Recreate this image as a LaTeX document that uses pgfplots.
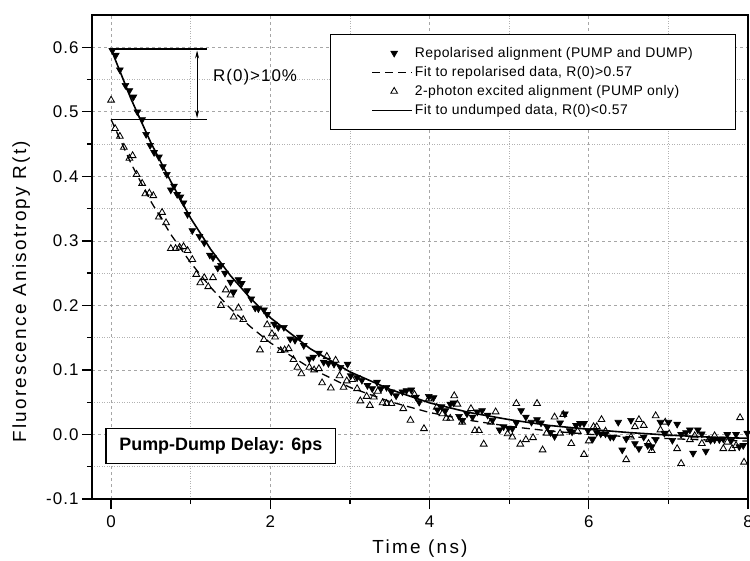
\documentclass[border=0pt]{standalone}
\usepackage{fontspec}
\setmainfont{Liberation Sans}
\newfontfamily\tickfnt[LetterSpace=6]{Liberation Sans}
\newfontfamily\labfnt[LetterSpace=12]{Liberation Sans}
\newfontfamily\legfnt[LetterSpace=3]{Liberation Sans}
\usepackage{pgfplots}
\usepackage{pgfplotstable}
\pgfplotsset{compat=1.18}
\usetikzlibrary{arrows.meta}

\pgfplotsset{
  marklegend/.style={legend image code/.code={\draw[##1] plot coordinates {(22bp,0bp)};}},
  linelegend/.style={legend image code/.code={\draw[##1] (0bp,0bp) -- (40bp,0bp);}},
}

% repolarised alignment (PUMP and DUMP), filled down triangles
\pgfplotstableread{
t r
0.016 0.595
0.06 0.588
0.11 0.565
0.18 0.541
0.23 0.533
0.28 0.523
0.33 0.500
0.39 0.488
0.44 0.465
0.49 0.448
0.54 0.437
0.60 0.430
0.65 0.415
0.70 0.403
0.75 0.379
0.79 0.385
0.83 0.372
0.87 0.368
0.91 0.359
0.96 0.341
1.02 0.316
1.11 0.307
1.17 0.297
1.24 0.278
1.28 0.274
1.34 0.258
1.38 0.262
1.43 0.250
1.50 0.236
1.54 0.221
1.60 0.240
1.64 0.234
1.71 0.223
1.76 0.210
1.81 0.196
1.85 0.195
1.92 0.193
1.96 0.186
2.05 0.171
2.10 0.166
2.17 0.166
2.25 0.148
2.31 0.146
2.37 0.151
2.42 0.138
2.49 0.117
2.54 0.120
2.61 0.126
2.67 0.112
2.73 0.110
2.80 0.109
2.88 0.104
2.97 0.109
3.01 0.091
3.09 0.088
3.15 0.084
3.22 0.076
3.28 0.071
3.34 0.081
3.39 0.071
3.46 0.073
3.52 0.066
3.58 0.060
3.66 0.066
3.71 0.068
3.77 0.069
3.83 0.058
3.87 0.050
3.99 0.059
4.05 0.057
4.10 0.038
4.15 0.043
4.20 0.037
4.26 0.047
4.30 0.049
4.37 0.028
4.41 0.022
4.47 0.032
4.54 0.027
4.60 0.035
4.66 0.037
4.73 0.030
4.79 0.022
4.88 0.007
4.93 0.012
4.99 0.010
5.04 0.009
5.09 0.018
5.15 0.037
5.21 0.027
5.28 0.019
5.35 0.023
5.40 0.018
5.48 0.011
5.52 0.003
5.57 -0.003
5.64 0.018
5.70 0.032
5.76 0.006
5.79 0.004
5.84 0.014
5.89 0.017
5.94 0.017
5.99 0.006
6.05 -0.007
6.10 0.003
6.15 0.001
6.21 0.001
6.27 -0.004
6.31 -0.004
6.37 0.019
6.42 -0.024
6.47 -0.007
6.53 0.022
6.58 -0.014
6.63 -0.022
6.69 -0.004
6.74 -0.017
6.79 -0.019
6.84 -0.008
6.90 0.019
6.95 0.002
7.00 0.019
7.05 -0.009
7.11 0.016
7.16 0.000
7.22 0.003
7.27 0.007
7.31 -0.029
7.37 0.007
7.42 0.001
7.47 -0.026
7.53 -0.009
7.58 -0.008
7.64 -0.008
7.69 -0.007
7.74 0.000
7.79 -0.009
7.85 0.000
7.89 -0.019
7.94 -0.017
7.99 0.002
}\dumped

% 2-photon excited alignment (PUMP only), open up triangles
\pgfplotstableread{
t r
0.00 0.518
0.05 0.474
0.11 0.462
0.16 0.445
0.23 0.428
0.27 0.432
0.32 0.403
0.39 0.389
0.43 0.373
0.48 0.374
0.53 0.370
0.60 0.337
0.64 0.344
0.69 0.328
0.75 0.288
0.81 0.288
0.86 0.290
0.91 0.291
0.96 0.285
1.02 0.271
1.07 0.248
1.12 0.235
1.17 0.243
1.22 0.229
1.28 0.243
1.38 0.200
1.44 0.224
1.50 0.216
1.54 0.182
1.60 0.196
1.66 0.178
1.87 0.131
1.92 0.147
1.96 0.170
2.02 0.156
2.06 0.151
2.13 0.130
2.18 0.131
2.23 0.133
2.29 0.116
2.34 0.104
2.39 0.094
2.49 0.104
2.55 0.100
2.61 0.102
2.65 0.080
2.71 0.121
2.76 0.072
2.82 0.115
2.87 0.091
2.92 0.073
2.96 0.083
3.03 0.085
3.09 0.071
3.13 0.052
3.21 0.059
3.25 0.045
3.30 0.058
3.35 0.067
3.41 0.049
3.46 0.048
3.52 0.048
3.67 0.040
3.76 0.022
3.81 0.062
3.93 0.009
3.99 0.055
4.09 0.042
4.16 0.032
4.21 0.025
4.26 0.025
4.31 0.060
4.35 0.047
4.41 0.019
4.52 0.040
4.57 0.006
4.62 0.006
4.68 -0.015
4.77 0.019
4.83 0.035
4.98 0.001
5.04 -0.004
5.09 0.048
5.14 -0.015
5.21 -0.008
5.30 -0.005
5.35 0.048
5.42 -0.024
5.47 0.002
5.57 0.027
5.64 0.002
5.68 0.031
5.78 -0.014
5.86 0.005
5.94 -0.031
6.00 -0.010
6.06 0.012
6.10 0.012
6.16 0.023
6.21 0.005
6.47 -0.039
6.53 -0.004
6.58 0.012
6.63 0.023
6.69 0.014
6.75 -0.014
6.79 -0.025
6.84 0.029
6.90 0.007
6.96 0.019
7.01 0.001
7.11 -0.022
7.16 -0.045
7.27 -0.008
7.33 -0.002
7.42 -0.014
7.51 -0.008
7.58 -0.002
7.69 -0.022
7.74 -0.012
7.80 -0.022
7.85 -0.017
7.90 0.026
7.95 -0.043
}\undumped

% fit curves
\pgfplotstableread{
t r
0 0.597
0.25 0.520
0.5 0.452
0.75 0.392
1.0 0.335
1.25 0.287
1.5 0.246
1.75 0.211
2.0 0.181
2.5 0.133
3.0 0.097
3.5 0.070
4.0 0.049
4.5 0.034
5.0 0.023
5.5 0.014
6.0 0.008
6.5 0.003
7.0 -0.001
7.5 -0.004
8.0 -0.006
}\fitsolid

\pgfplotstableread{
t r
0 0.488
0.25 0.420
0.5 0.361
0.75 0.310
1.0 0.266
1.25 0.228
1.5 0.195
1.75 0.167
2.0 0.142
2.5 0.103
3.0 0.073
3.5 0.051
4.0 0.034
4.5 0.022
5.0 0.0125
5.5 0.0055
6.0 0.0003
6.5 -0.0035
7.0 -0.0064
7.5 -0.0086
8.0 -0.0102
}\fitdashed

\begin{document}
\begin{tikzpicture}
\begin{axis}[
  scale only axis, width=656bp, height=484bp,
  xmin=-0.24, xmax=8, ymin=-0.1, ymax=0.65,
  xtick={0,2,4,6,8}, ytick={-0.1,0,0.1,0.2,0.3,0.4,0.5,0.6},
  minor x tick num=1, minor y tick num=1,
  xtick pos=bottom, ytick pos=left,
  tick align=outside,
  major tick length=10bp, minor tick length=5bp,
  every tick/.style={black, line width=1.3bp},
  axis line style={line width=1.6bp},
  grid=both,
  major grid style={black!35, dash pattern=on 3bp off 3bp, line width=0.6bp},
  minor grid style={black!30, dash pattern=on 1bp off 1.5bp, line width=0.6bp},
  /pgf/number format/assume math mode=true,
  yticklabel style={/pgf/number format/.cd, fixed, fixed zerofill, precision=1},
  ticklabel style={font=\tickfnt\fontsize{17}{18}\selectfont},
  xticklabel style={yshift=-3bp},
  xlabel={Time (ns)},
  ylabel={Fluorescence Anisotropy R(t)},
  label style={font=\labfnt\fontsize{19}{20}\selectfont},
  xlabel style={at={(axis description cs:0.5,-0.103)}, anchor=center},
  ylabel style={at={(axis description cs:-0.108,0.428)}, anchor=center},
  legend style={at={(rel axis cs:0.982,0.961)}, anchor=north east,
    draw=black, line width=1bp, fill=white,
    font=\legfnt\fontsize{14}{15}\selectfont,
    inner xsep=41bp, inner ysep=11bp, row sep=3.5bp},
  legend cell align=left,
]
\addplot[only marks, mark=triangle*, mark size=3.9bp,
  mark options={rotate=180, fill=black, line width=0.6bp}, marklegend]
  table[x=t, y=r] {\dumped};
\addlegendentry{Repolarised alignment (PUMP and DUMP)}
\addplot[black, line width=1.3bp, dash pattern=on 8bp off 5bp, linelegend]
  table[x=t, y=r] {\fitdashed};
\addlegendentry{Fit to repolarised data, R(0)>0.57}
\addplot[only marks, mark=triangle, mark size=3.9bp,
  mark options={fill=white, line width=0.85bp}, marklegend]
  table[x=t, y=r] {\undumped};
\addlegendentry{2-photon excited alignment (PUMP only)}
\addplot[black, line width=1.6bp, linelegend]
  table[x=t, y=r] {\fitsolid};
\addlegendentry{Fit to undumped data, R(0)<0.57}

% R(0) difference marker
\draw[line width=1.5bp] (axis cs:0,0.597) -- (axis cs:1.2,0.597);
\draw[line width=1.5bp] (axis cs:0,0.488) -- (axis cs:1.2,0.488);
\draw[line width=0.8bp, {Stealth[length=8bp,width=4bp]}-{Stealth[length=8bp,width=4bp]}]
  (axis cs:1.08,0.595) -- (axis cs:1.08,0.490);
\node[anchor=west, font=\tickfnt\fontsize{17}{18}\selectfont, inner sep=0pt]
  at (axis cs:1.28,0.553) {R(0)>10\%};

% delay box
\draw[line width=1.2bp, fill=white] (axis cs:-0.063,0.0093) rectangle (axis cs:2.82,-0.045);
\node[font=\bfseries\fontsize{18}{20}\selectfont] at (axis cs:1.378,-0.018) {Pump-Dump Delay: 6ps};

\coordinate (sw) at (rel axis cs:0,0);
\coordinate (ne) at (rel axis cs:1,1);
\end{axis}
\pgfresetboundingbox
\path ([shift={(-92bp,-62bp)}]sw) rectangle ([shift={(2bp,15bp)}]ne);
\end{tikzpicture}
\end{document}
